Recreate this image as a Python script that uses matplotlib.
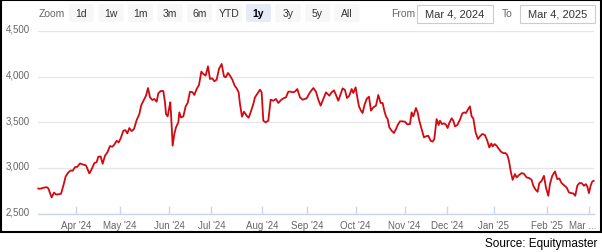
import matplotlib
matplotlib.use("Agg")
import matplotlib.pyplot as plt
from matplotlib.patches import FancyBboxPatch, Rectangle
from matplotlib.transforms import ScaledTranslation

plt.rcParams['font.family'] = ['Liberation Sans', 'DejaVu Sans']

# ---- data (trading-day position on an ordinal axis, index level) ----
trading_day = [
    0.15, 0.9, 2.4, 3.9, 4.65, 6.15, 7.2, 8.1, 9.6, 10.35,
    11.4, 12.45, 13.65, 14.7, 15.6, 16.65, 17.7, 18.9, 19.65, 21.6,
    23.1, 24.15, 25.35, 26.4, 27.15, 28.2, 29.1, 30.15, 31.2, 32.4,
    33.45, 34.2, 35.4, 36.3, 37.2, 38.4, 39.3, 40.2, 41.1, 42.15,
    43.2, 44.4, 45.6, 46.5, 47.7, 48.6, 49.5, 50.4, 51.45, 52.35,
    53.4, 54.15, 55.2, 56.4, 57.15, 57.6, 58.35, 58.95, 59.55, 60.0,
    60.6, 61.35, 62.1, 63.15, 63.6, 64.35, 65.4, 66.45, 67.35, 68.4,
    69.6, 70.35, 71.4, 72.45, 73.5, 74.4, 75.45, 76.5, 77.4, 78.45,
    79.35, 80.4, 81.45, 82.65, 83.7, 84.45, 85.5, 86.4, 87.45, 88.5,
    89.4, 90.3, 90.9, 91.8, 92.7, 93.9, 94.8, 95.7, 96.9, 97.65,
    98.85, 99.9, 100.65, 101.4, 102.45, 103.65, 104.7, 105.9, 107.1, 108.15,
    109.2, 110.4, 111.6, 112.65, 113.7, 114.9, 115.8, 116.7, 117.9,
    119.1, 120.9, 122.4, 123.9, 125.1, 126.15, 127.2, 128.4, 129.6, 131.1,
    132.15, 133.2, 134.1, 135.15, 136.2, 137.1, 138.15, 139.05, 140.1, 141.15,
    141.9, 142.95, 143.7, 144.45, 145.35, 146.1, 146.85, 147.9, 148.95, 149.85,
    150.9, 152.1, 153.15, 154.2, 155.1, 155.85, 156.6, 157.35, 158.1, 159.15,
    160.2, 161.1, 161.85, 162.9, 164.1, 165.15, 166.2, 167.4, 168.15, 168.9,
    170.1, 170.85, 171.6, 172.65, 173.7, 174.6, 175.65, 176.7, 177.6, 178.35,
    179.4, 180.3, 180.9, 181.8, 182.7, 183.6, 184.35, 185.1, 186.15, 186.9,
    187.65, 188.7, 189.9, 190.95, 191.85, 192.6, 193.35, 194.4, 195.15, 195.9,
    196.95, 198.0, 198.9, 199.95, 201.15, 202.2, 203.1, 204.0, 204.6, 205.5,
    206.4, 207.45, 208.35, 209.4, 210.45, 211.2, 211.95, 212.7, 213.6, 214.65,
    215.4, 216.45, 217.65, 218.7, 219.9, 221.1, 222.15, 222.9, 223.95, 224.85,
    225.6, 226.65, 227.7, 228.6, 229.65, 230.4, 231.45, 232.65, 233.7, 234.6,
    235.65, 236.7, 237.9, 238.95, 240.0, 240.9, 241.8, 242.7, 243.6, 244.65,
    245.7, 246.6, 247.2, 247.95, 248.7, 249.45, 250.05,
]
index_value = [
    2774, 2770, 2782, 2789, 2775, 2676, 2730, 2708, 2712, 2716,
    2804, 2906, 2950, 2972, 2968, 3008, 3012, 3049, 3041, 3027,
    2939, 2986, 3052, 3063, 3122, 3125, 3045, 3133, 3169, 3239,
    3232, 3250, 3297, 3279, 3323, 3407, 3414, 3378, 3436, 3403,
    3425, 3524, 3590, 3689, 3747, 3791, 3875, 3773, 3744, 3755,
    3725, 3817, 3842, 3842, 3718, 3590, 3564, 3645, 3718, 3535,
    3243, 3371, 3444, 3499, 3608, 3553, 3564, 3674, 3711, 3835,
    3828, 3799, 3864, 3908, 4055, 4029, 4011, 4113, 3974, 3981,
    3949, 3967, 4084, 4139, 4003, 3992, 4040, 4011, 3967, 3901,
    3872, 3828, 3700, 3561, 3616, 3572, 3550, 3608, 3700, 3773,
    3817, 3857, 3828, 3517, 3499, 3517, 3747, 3736, 3755, 3711,
    3740, 3762, 3773, 3835, 3835, 3828, 3839, 3864, 3773,
    3747, 3762, 3828, 3875, 3835, 3747, 3682, 3755, 3828, 3791,
    3828, 3850, 3799, 3736, 3810, 3872, 3853, 3766, 3791, 3864,
    3821, 3883, 3773, 3674, 3627, 3601, 3682, 3755, 3780, 3627,
    3664, 3682, 3799, 3711, 3711, 3627, 3564, 3535, 3444, 3407,
    3382, 3425, 3469, 3510, 3510, 3506, 3477, 3480, 3608, 3564,
    3656, 3608, 3517, 3425, 3334, 3346, 3352, 3297, 3287, 3316,
    3535, 3469, 3517, 3480, 3488, 3473, 3436, 3491, 3543, 3517,
    3455, 3469, 3528, 3597, 3608, 3601, 3634, 3674, 3564, 3543,
    3389, 3316, 3346, 3371, 3360, 3297, 3224, 3268, 3235, 3261,
    3243, 3206, 3177, 3162, 3162, 3140, 3078, 2968, 2869, 2932,
    2895, 2921, 2943, 2935, 2895, 2888, 2869, 2804, 2760, 2738,
    2833, 2858, 2913, 2785, 2694, 2822, 2913, 2961, 2877, 2884,
    2833, 2811, 2785, 2731, 2723, 2720, 2694, 2804, 2833, 2833,
    2804, 2822, 2796, 2723, 2804, 2851, 2858,
]
month_ticks = [17, 37, 59, 78, 101, 121, 143, 165, 184, 205, 229, 248]
month_labels = ["Apr '24", "May '24", "Jun '24", "Jul '24", "Aug '24", "Sep '24",
                "Oct '24", "Nov '24", "Dec '24", "Jan '25", "Feb '25", "Mar ..."]
y_ticks = [2500, 3000, 3500, 4000, 4500]
y_labels = ["2,500", "3,000", "3,500", "4,000", "4,500"]
zoom_buttons = ['1d', '1w', '1m', '3m', '6m', 'YTD', '1y', '3y', '5y', 'All']
selected_button = '1y'
date_from = "Mar 4, 2024"
date_to = "Mar 4, 2025"
source_text = "Source: Equitymaster"

# ---- figure ----
W, H = 602, 253
fig = plt.figure(figsize=(W / 100, H / 100), dpi=100)
fig.patch.set_facecolor('white')

# overlay in pixel coordinates for the chrome (border, buttons)
ov = fig.add_axes([0, 0, 1, 1])
ov.set_xlim(0, W)
ov.set_ylim(H, 0)
ov.axis('off')
ov.patch.set_alpha(0)

ov.add_patch(Rectangle((0.7, 0.7), 600.3, 232.3, fill=False, edgecolor='black', lw=1.5))

ov.text(52, 14, "Zoom", ha='center', va='center', fontsize=7.5, color='#666666')
for i, b in enumerate(zoom_buttons):
    x0 = 69 + i * 29.5
    sel = (b == selected_button)
    ov.add_patch(FancyBboxPatch((x0, 5), 25, 18,
                                boxstyle="round,pad=0,rounding_size=2",
                                facecolor='#e6ebf5' if sel else '#f7f7f7',
                                edgecolor='none'))
    ov.text(x0 + 12.5, 14, b, ha='center', va='center', fontsize=7.5,
            color='#000000' if sel else '#333333',
            fontweight='bold' if sel else 'normal')

ov.text(403.5, 14, "From", ha='center', va='center', fontsize=7.5, color='#666666')
ov.add_patch(Rectangle((417, 5.5), 76, 18, facecolor='white', edgecolor='#cccccc', lw=0.8))
ov.text(455, 14.5, date_from, ha='center', va='center', fontsize=8, color='#333333')
ov.text(507.5, 14, "To", ha='center', va='center', fontsize=7.5, color='#666666')
ov.add_patch(Rectangle((520, 5.5), 75, 18, facecolor='white', edgecolor='#cccccc', lw=0.8))
ov.text(557.5, 14.5, date_to, ha='center', va='center', fontsize=8, color='#333333')

ov.text(597, 244, source_text, ha='right', va='center', fontsize=8.5, color='black')

# main plot
x0p, x1p = 38, 593.5
ytop, ybot = 32, 214.5
ax = fig.add_axes([x0p / W, (H - ybot) / H, (x1p - x0p) / W, (ybot - ytop) / H])
ax.patch.set_alpha(0)
ax.plot(trading_day, index_value, color='#d10a11', lw=1.3, zorder=3,
        solid_joinstyle='round', clip_on=False)
ax.set_xlim(0, 250)
ax.set_ylim(2500, 4500)

for s in ['top', 'right', 'left']:
    ax.spines[s].set_visible(False)
ax.spines['bottom'].set_color('#ccd6eb')
ax.spines['bottom'].set_linewidth(1)

ax.set_yticks(y_ticks)
ax.set_yticklabels(y_labels)
ax.grid(axis='y', color='#e6e6e6', lw=1)
ax.set_axisbelow(True)
ax.tick_params(axis='y', length=0, pad=6, labelsize=7, labelcolor='#666666')
off = ScaledTranslation(0, 3 / 100, fig.dpi_scale_trans)
for lab in ax.get_yticklabels():
    lab.set_transform(lab.get_transform() + off)

ax.set_xticks(month_ticks)
ax.set_xticklabels(month_labels)
ax.tick_params(axis='x', direction='in', length=6, width=1, color='#ccd6eb',
               pad=5, labelsize=7, labelcolor='#666666')
last = ax.get_xticklabels()[-1]
last.set_transform(last.get_transform() + ScaledTranslation(-6 / 100, 0, fig.dpi_scale_trans))

fig.savefig('out.png', dpi=100)
